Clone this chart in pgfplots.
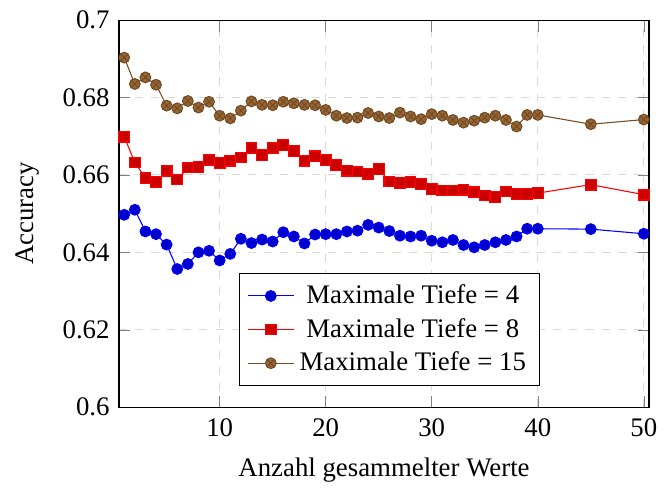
\documentclass[border=0pt]{standalone}
\usepackage{fontspec}
\setmainfont{Liberation Serif}
\usepackage{pgfplots}
\usetikzlibrary{calc}
\pgfplotsset{compat=1.18}
\begin{document}
\begin{tikzpicture}
\begin{axis}[
  name=ax,
  scale only axis,
  width=197.7pt, height=144.4pt,
  xmin=0.51, xmax=50.49,
  ymin=0.6, ymax=0.7,
  xtick={10,20,30,40,50},
  ytick={0.6,0.62,0.64,0.66,0.68,0.7},
  yticklabels={0.6,0.62,0.64,0.66,0.68,0.7},
  /pgf/number format/assume math mode=true,
  xticklabel style={yshift=-0.8pt},
  grid=major,
  major grid style={dashed, gray!30},
  xlabel={Anzahl gesammelter Werte},
  ylabel={Accuracy},
  xlabel style={yshift=-0.8pt},
  ylabel style={yshift=1.8pt},
  legend cell align=center,
  legend style={at={(0.51,0.055)}, anchor=south},
]
\addplot coordinates {
(1,0.6497)(2,0.6510)(3,0.6454)(4,0.6447)(5,0.6420)(6,0.6357)(7,0.6370)(8,0.6400)(9,0.6404)(10,0.6379)
(11,0.6396)(12,0.6435)(13,0.6424)(14,0.6433)(15,0.6428)(16,0.6452)(17,0.6441)(18,0.6423)(19,0.6446)(20,0.6447)
(21,0.6447)(22,0.6454)(23,0.6456)(24,0.6471)(25,0.6464)(26,0.6455)(27,0.6443)(28,0.6441)(29,0.6443)(30,0.6430)
(31,0.6426)(32,0.6432)(33,0.6419)(34,0.6413)(35,0.6419)(36,0.6426)(37,0.6432)(38,0.6441)(39,0.6461)(40,0.6461)
(45,0.6460)(50,0.6448)
};
\addlegendentry{Maximale Tiefe = 4}
\addplot coordinates {
(1,0.6699)(2,0.6632)(3,0.6592)(4,0.6581)(5,0.6611)(6,0.6588)(7,0.6619)(8,0.6620)(9,0.6639)(10,0.6630)
(11,0.6637)(12,0.6645)(13,0.6669)(14,0.6652)(15,0.6669)(16,0.6678)(17,0.6662)(18,0.6637)(19,0.6648)(20,0.6639)
(21,0.6625)(22,0.6611)(23,0.6609)(24,0.6602)(25,0.6615)(26,0.6583)(27,0.6579)(28,0.6581)(29,0.6577)(30,0.6564)
(31,0.6560)(32,0.6560)(33,0.6562)(34,0.6555)(35,0.6547)(36,0.6543)(37,0.6557)(38,0.6550)(39,0.6550)(40,0.6553)
(45,0.6575)(50,0.6549)
};
\addlegendentry{Maximale Tiefe = 8}
\addplot coordinates {
(1,0.6903)(2,0.6835)(3,0.6852)(4,0.6833)(5,0.6779)(6,0.6772)(7,0.6791)(8,0.6774)(9,0.6789)(10,0.6753)
(11,0.6746)(12,0.6766)(13,0.6790)(14,0.6781)(15,0.6780)(16,0.6789)(17,0.6785)(18,0.6781)(19,0.6780)(20,0.6768)
(21,0.6753)(22,0.6747)(23,0.6748)(24,0.6760)(25,0.6751)(26,0.6747)(27,0.6761)(28,0.6751)(29,0.6744)(30,0.6757)
(31,0.6753)(32,0.6742)(33,0.6735)(34,0.6740)(35,0.6748)(36,0.6753)(37,0.6742)(38,0.6725)(39,0.6755)(40,0.6755)
(45,0.6731)(50,0.6743)
};
\addlegendentry{Maximale Tiefe = 15}
\end{axis}
\path (ax.south west) ++(-44.4pt,-27.6pt) rectangle ($(ax.north east)+(8.2pt,7.5pt)$);
\end{tikzpicture}
\end{document}
